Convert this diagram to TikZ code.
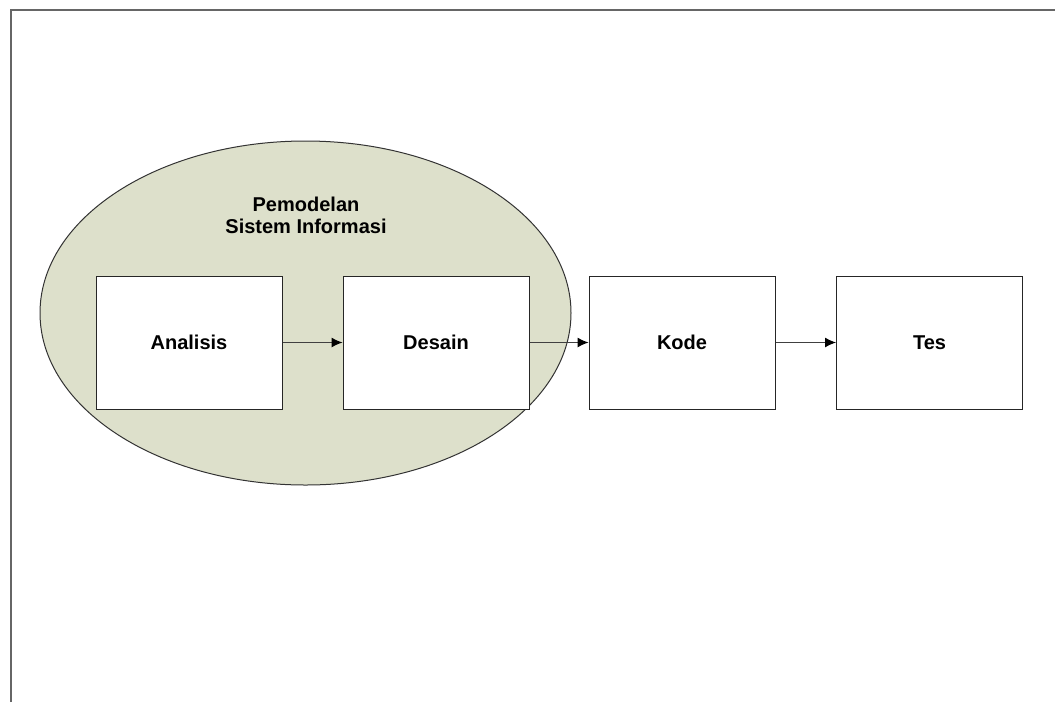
\documentclass[tikz,border=0pt]{standalone}
\usepackage{fontspec}
\setmainfont{Liberation Sans}
\usetikzlibrary{arrows.meta}
\definecolor{sifill}{RGB}{221,224,203}
\tikzset{
  tahap/.style={draw=black!85,line width=1pt,fill=white,minimum width=186pt,minimum height=133pt,inner sep=0pt,font=\fontsize{20}{22}\selectfont\bfseries},
  alur/.style={draw=black!75,line width=1pt,-{Latex[length=11pt,width=10pt,color=black]}}
}
\begin{document}
\begin{tikzpicture}[x=1pt,y=-1pt]
\useasboundingbox (0,0) rectangle (1055,702);
\draw[black!60,line width=1.5pt] (11,702) -- (11,10) -- (1055,10);
\draw[black!80,line width=1pt,fill=sifill] (305.5,313) ellipse [x radius=265.5,y radius=172];
\node[font=\fontsize{20}{22}\selectfont\bfseries,align=center] (judul) at (306,215) {Pemodelan\\Sistem Informasi};
\node[tahap] (analisis) at (189,342.5) {Analisis};
\node[tahap] (desain) at (436,342.5) {Desain};
\node[tahap] (kode) at (682,342.5) {Kode};
\node[tahap] (tes) at (929.5,342.5) {Tes};
\draw[alur] (analisis) -- (desain);
\draw[alur] (desain) -- (kode);
\draw[alur] (kode) -- (tes);
\end{tikzpicture}
\end{document}
